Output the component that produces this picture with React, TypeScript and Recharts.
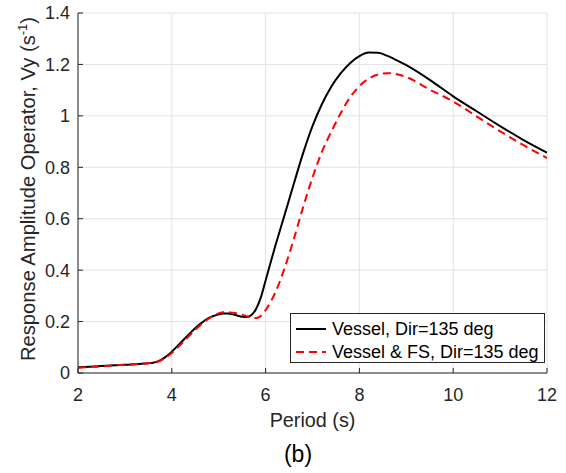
import React from 'react';
import { LineChart, Line, XAxis, YAxis, CartesianGrid, Legend } from 'recharts';

// Period (s)
const periods = [
  2, 2.5, 3, 3.5, 3.6, 3.7, 3.8, 3.9, 4, 4.2, 4.4, 4.6, 4.8, 5, 5.1, 5.2, 5.3, 5.4, 5.5, 5.6, 5.7,
  5.8, 5.9, 6, 6.2, 6.4, 6.6, 6.8, 7, 7.2, 7.4, 7.6, 7.8, 8, 8.2, 8.4, 8.6, 8.8, 9, 9.5, 10, 10.5,
  11, 11.5, 12,
];

// Vessel, Dir=135 deg
const vesselVy = [
  0.022, 0.027, 0.032, 0.038, 0.04, 0.045, 0.054, 0.067, 0.083, 0.12, 0.157, 0.19, 0.215, 0.228,
  0.231, 0.231, 0.228, 0.223, 0.219, 0.218, 0.226, 0.25, 0.295, 0.36, 0.49, 0.612, 0.735, 0.855,
  0.96, 1.045, 1.113, 1.165, 1.205, 1.232, 1.246, 1.245, 1.233, 1.216, 1.197, 1.14, 1.076, 1.018,
  0.96, 0.906, 0.857,
];

// Vessel & FS, Dir=135 deg
const vesselFsVy = [
  0.02, 0.026, 0.032, 0.038, 0.04, 0.044, 0.052, 0.064, 0.078, 0.113, 0.15, 0.185, 0.213, 0.232,
  0.236, 0.236, 0.234, 0.231, 0.227, 0.221, 0.215, 0.214, 0.222, 0.245, 0.31, 0.405, 0.52, 0.645,
  0.76, 0.86, 0.938, 1.01, 1.072, 1.116, 1.145, 1.161, 1.166, 1.162, 1.151, 1.102, 1.056, 0.998,
  0.94, 0.886, 0.836,
];

const xTicks = [2, 4, 6, 8, 10, 12];
const yTicks = [0, 0.2, 0.4, 0.6, 0.8, 1, 1.2, 1.4];

const legendItems = [
  { name: 'Vessel, Dir=135 deg', color: '#000000', dash: undefined },
  { name: 'Vessel & FS, Dir=135 deg', color: '#ff0000', dash: '8 5' },
];

const chartData = periods.map((p, i) => ({
  period: p,
  vessel: vesselVy[i],
  vesselFs: vesselFsVy[i],
}));

const FONT = '"Liberation Sans", Arial, Helvetica, sans-serif';
const TEXT = '#262626';

const LegendBox = () => (
  <div
    style={{
      width: 255,
      height: 50,
      boxSizing: 'border-box',
      border: `1px solid ${TEXT}`,
      background: '#fff',
      paddingTop: 4,
      fontFamily: FONT,
      fontSize: 18,
      color: '#000',
    }}
  >
    {legendItems.map((item) => (
      <div key={item.name} style={{ display: 'flex', alignItems: 'center', height: 22.5 }}>
        <svg width={30} height={10} style={{ marginLeft: 5, marginRight: 6 }}>
          <line x1={0} y1={5} x2={30} y2={5} stroke={item.color} strokeWidth={2} strokeDasharray={item.dash} />
        </svg>
        <span style={{ whiteSpace: 'nowrap', lineHeight: '22px' }}>{item.name}</span>
      </div>
    ))}
  </div>
);

const XLabel = (props: any) => {
  const { x, y, width } = props.viewBox;
  const cx = x + width / 2;
  return (
    <g>
      <text x={cx} y={y + 54} textAnchor="middle" fontSize={19.8} fontFamily={FONT} fill={TEXT}>
        Period (s)
      </text>
      <text x={cx - 14.5} y={y + 89} textAnchor="middle" fontSize={23} fontFamily={FONT} fill="#000">
        (b)
      </text>
    </g>
  );
};

const YLabel = (props: any) => {
  const { x, y, height } = props.viewBox;
  const bx = x + 35;
  const cy = y + height / 2 - 4;
  return (
    <text
      x={bx}
      y={cy}
      transform={`rotate(-90, ${bx}, ${cy})`}
      textAnchor="middle"
      fontSize={20.2}
      fontFamily={FONT}
      fill={TEXT}
    >
      Response Amplitude Operator, Vy (s
      <tspan dy={-8} fontSize={13}>-1</tspan>
      <tspan dy={8}>)</tspan>
    </text>
  );
};

export default function App() {
  return (
    <div style={{ position: 'absolute', left: 0, top: 0, width: 566, height: 473, background: '#fff' }}>
      <LineChart width={566} height={473} data={chartData} margin={{ top: 13, right: 19, left: 0, bottom: 0 }}>
        <CartesianGrid stroke="#e3e3e3" strokeWidth={1} />
        <XAxis
          dataKey="period"
          type="number"
          domain={[2, 12]}
          ticks={xTicks}
          height={100}
          stroke={TEXT}
          tickSize={-5}
          tickMargin={20}
          tick={{ fill: TEXT, fontSize: 18, fontFamily: FONT }}
          label={<XLabel />}
          allowDataOverflow
        />
        <YAxis
          type="number"
          domain={[0, 1.4]}
          ticks={yTicks}
          width={78}
          stroke={TEXT}
          tickSize={-5}
          tickMargin={13}
          tick={{ fill: TEXT, fontSize: 18, fontFamily: FONT }}
          label={<YLabel />}
          allowDataOverflow
        />
        <Legend
          layout="vertical"
          align="center"
          verticalAlign="middle"
          content={() => <LegendBox />}
          wrapperStyle={{ left: 290, top: 313, width: 255, height: 50 }}
        />
        <Line
          type="monotone"
          dataKey="vessel"
          name="Vessel, Dir=135 deg"
          stroke="#000000"
          strokeWidth={2}
          dot={false}
          activeDot={false}
          isAnimationActive={false}
        />
        <Line
          type="monotone"
          dataKey="vesselFs"
          name="Vessel & FS, Dir=135 deg"
          stroke="#ff0000"
          strokeWidth={2}
          strokeDasharray="8 5"
          dot={false}
          activeDot={false}
          isAnimationActive={false}
        />
      </LineChart>
    </div>
  );
}
